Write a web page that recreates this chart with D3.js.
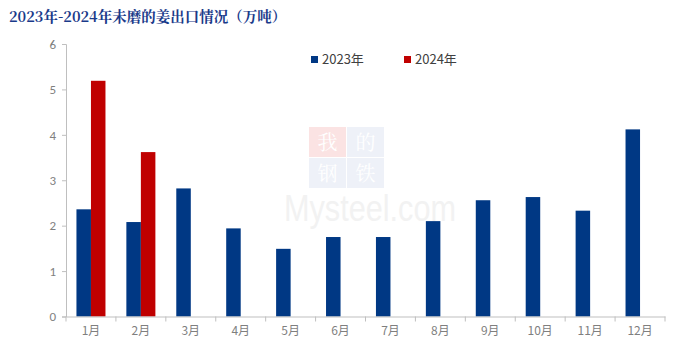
<!DOCTYPE html>
<html>
<head>
<meta charset="utf-8">
<script src="https://cdn.jsdelivr.net/npm/d3@7"></script>
<style>
  body { margin: 0; background: #fff; }
  svg { display: block; }
</style>
</head>
<body>
<svg width="700" height="349"></svg>
<script>
// data (万吨)
const months = ['1月','2月','3月','4月','5月','6月','7月','8月','9月','10月','11月','12月'];
const seriesNames = ['2023年','2024年'];
const v2023 = [2.36, 2.08, 2.82, 1.94, 1.49, 1.75, 1.75, 2.10, 2.56, 2.63, 2.33, 4.12];
const v2024 = [5.19, 3.62];
const yTicks = [0, 1, 2, 3, 4, 5, 6];
const colors = ['#003884', '#c00000'];

const svg = d3.select('svg');

// watermark
const wm = svg.append('g').attr('class', 'watermark');
const wmBoxes = [
  {t: '我', c: '#fbe3e3', x: 309, y: 127},
  {t: '的', c: '#eef1f8', x: 347, y: 127},
  {t: '钢', c: '#eef1f8', x: 309, y: 158},
  {t: '铁', c: '#eef1f8', x: 347, y: 158}
];
wm.selectAll('rect').data(wmBoxes).enter().append('rect')
  .attr('x', d => d.x).attr('y', d => d.y)
  .attr('width', 37).attr('height', 30)
  .attr('fill', d => d.c);
wm.selectAll('text.wc').data(wmBoxes).enter().append('text')
  .attr('class', 'wc')
  .attr('x', d => d.x + 18.5).attr('y', d => d.y + 23)
  .attr('text-anchor', 'middle')
  .attr('font-family', 'Noto Serif CJK SC, Noto Sans CJK SC, serif')
  .attr('font-size', 20)
  .attr('fill', '#ffffff')
  .text(d => d.t);
wm.append('text')
  .attr('x', 284).attr('y', 221)
  .attr('font-family', 'Arial, Liberation Sans, sans-serif')
  .attr('font-size', 36)
  .attr('textLength', 172)
  .attr('lengthAdjust', 'spacingAndGlyphs')
  .attr('fill', '#f2f2f2')
  .text('Mysteel.com');

// scales
const x0 = d3.scaleBand().domain(months).range([66, 665]).padding(0);
const x1 = d3.scaleBand().domain(seriesNames).range([0, x0.bandwidth()]).paddingInner(0).paddingOuter(0.72);
const y = d3.scaleLinear().domain([0, 6]).range([316.5, 44]);

// bars
const bars = [];
months.forEach((m, i) => {
  bars.push({m, s: '2023年', v: v2023[i], c: colors[0]});
  if (v2024[i] != null) bars.push({m, s: '2024年', v: v2024[i], c: colors[1]});
});
svg.append('g').selectAll('rect').data(bars).enter().append('rect')
  .attr('x', d => x0(d.m) + x1(d.s))
  .attr('width', x1.bandwidth())
  .attr('y', d => y(d.v))
  .attr('height', d => y(0) - y(d.v))
  .attr('fill', d => d.c);

// y axis
const yAxis = svg.append('g')
  .attr('transform', 'translate(66,0)')
  .call(d3.axisLeft(y).tickValues(yTicks).tickSize(4).tickPadding(6).tickFormat(d3.format('d')));
yAxis.select('.domain').attr('stroke', '#bfbfbf');
yAxis.selectAll('.tick line').attr('stroke', '#bfbfbf');
yAxis.selectAll('text')
  .attr('font-family', 'Calibri, Carlito, Liberation Sans, sans-serif')
  .attr('font-size', 13).attr('fill', '#7f7f7f');

// x axis
const xAxis = svg.append('g')
  .attr('transform', `translate(0,${y(0)})`)
  .call(d3.axisBottom(x0).tickSize(0).tickPadding(10));
xAxis.select('.domain').attr('stroke', '#bfbfbf');
xAxis.selectAll('text')
  .attr('font-family', 'Noto Sans CJK SC, sans-serif')
  .attr('font-size', 12).attr('fill', '#7f7f7f');
// tick marks at category boundaries
const bounds = months.map(m => x0(m)).concat([x0.range()[1]]);
xAxis.selectAll('line.sep').data(bounds).enter().append('line')
  .attr('class', 'sep')
  .attr('x1', d => d).attr('x2', d => d)
  .attr('y1', 0).attr('y2', 5)
  .attr('stroke', '#bfbfbf');

// legend
const legend = svg.append('g');
const lg = legend.selectAll('g').data(seriesNames).enter().append('g')
  .attr('transform', (d, i) => `translate(${311 + i * 93},56)`);
lg.append('rect').attr('width', 7).attr('height', 7).attr('fill', (d, i) => colors[i]);
lg.append('text')
  .attr('x', 11).attr('y', 8)
  .attr('font-family', 'Noto Sans CJK SC, sans-serif')
  .attr('font-size', 13).attr('fill', '#404040')
  .text(d => d);

// title
svg.append('text')
  .attr('x', 9).attr('y', 22)
  .attr('font-family', 'Noto Serif CJK SC, Noto Sans CJK SC, serif')
  .attr('font-weight', 'bold')
  .attr('font-size', 14.5)
  .attr('fill', '#1a3a8a')
  .text('2023年-2024年未磨的姜出口情况（万吨）');
</script>
</body>
</html>
